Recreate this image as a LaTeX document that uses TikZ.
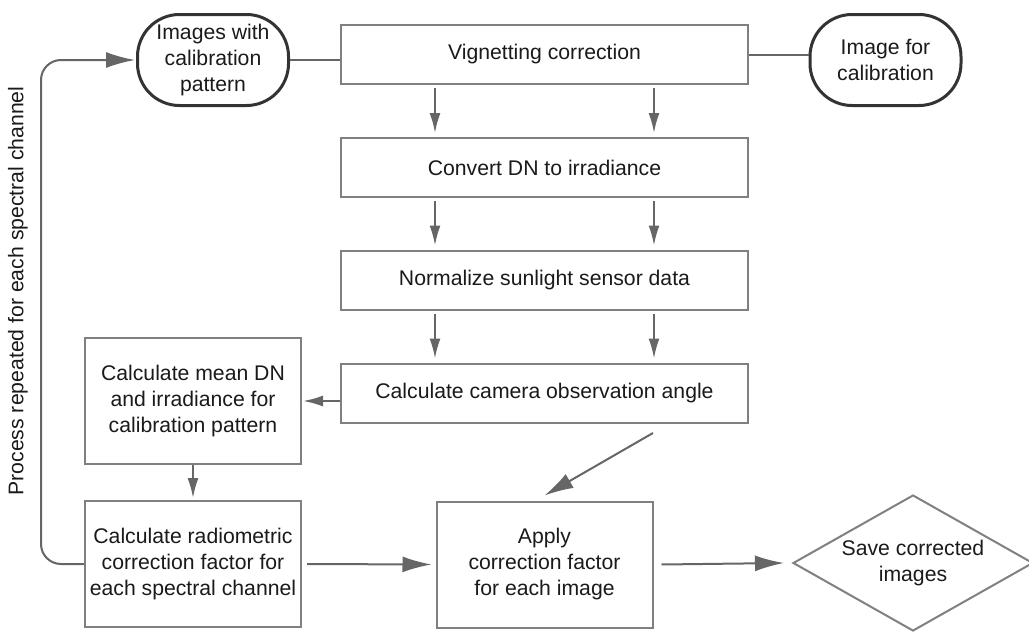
\documentclass[tikz,border=0pt]{standalone}
\usepackage{fontspec}
\setmainfont{Liberation Sans}
\usetikzlibrary{shapes.geometric, arrows.meta}
\definecolor{boxgray}{HTML}{808080}
\definecolor{linegray}{HTML}{666666}
\definecolor{termgray}{HTML}{333333}
\definecolor{txt}{HTML}{1A1A1A}

\begin{document}
\begin{tikzpicture}[x=1pt, y=-1pt,
	every node/.style={font=\fontsize{21.2}{26}\selectfont, text=txt, align=center, inner sep=0pt},
	stepbox/.style={draw=boxgray, line width=2pt, fill=white},
	wide/.style={minimum width=407pt, minimum height=59pt},
	tall/.style={minimum width=216pt, minimum height=126pt},
	terminal/.style={draw=termgray, line width=3pt, rounded corners=42pt, minimum width=151pt, minimum height=91pt},
	flow/.style={draw=linegray, line width=2pt, -{Latex[length=20pt, width=11pt]}},
	bigflow/.style={draw=linegray, line width=2pt, -{Latex[length=29pt, width=16pt]}},
	link/.style={draw=linegray, line width=2pt}]
	\useasboundingbox (0,0) rectangle (1029,632);

	\node[terminal] (imgs) at (213,60) {Images with\\calibration\\pattern};
	\node[stepbox, wide] (vig) at (544.5,54.5) {Vignetting correction};
	\node[terminal] (calimg) at (885.5,60) {Image for\\calibration};
	\node[stepbox, wide] (conv) at (544.5,167.5) {Convert DN to irradiance};
	\node[stepbox, wide] (norm) at (544.5,280) {Normalize sunlight sensor data};
	\node[stepbox, wide] (cam) at (544.5,393) {Calculate camera observation angle};
	\node[stepbox, tall] (mean) at (193,401) {Calculate mean DN\\and irradiance for\\calibration pattern};
	\node[stepbox, tall] (rad) at (193,564) {Calculate radiometric\\correction factor for\\each spectral channel};
	\node[stepbox, tall] (apply) at (544.5,564.5) {Apply\\correction factor\\for each image};
	\node[diamond, draw=boxgray, line width=2pt, aspect=1.76, minimum width=240pt, minimum height=136pt] (save) at (913,563) {Save corrected\\images};
	\node[rotate=90] (note) at (18,291) {Process repeated for each spectral channel};

	\coordinate (colL) at (435,0);
	\coordinate (colR) at (654,0);
	\coordinate (loopx) at (41,0);
	\coordinate (camout) at (653,433);

	\draw[link] (imgs.east) -- (imgs.east -| vig.west);
	\draw[link] (vig.east) -- (vig.east -| calimg.west);
	\foreach \a/\b in {vig/conv, conv/norm, norm/cam}
		\foreach \c in {colL, colR}
			\draw[flow] ([yshift=-3pt]\a.south -| \c) -- ([yshift=4pt]\b.north -| \c);
	\draw[flow] (cam.west |- mean.east) -- ([xshift=1pt]mean.east);
	\draw[flow] (mean.south) -- ([yshift=2pt]rad.north);
	\draw[bigflow] ([xshift=5pt]rad.east) -- ([xshift=-4pt]apply.west);
	\draw[bigflow] ([xshift=8pt]apply.east) -- ([xshift=-8pt]save.west);
	\draw[bigflow] (camout) -- ([yshift=5pt]apply.north);
	\draw[bigflow, rounded corners=20pt] (rad.west) -- (loopx |- rad.west) -- (loopx |- imgs.west) -- ([xshift=-1pt]imgs.west);
\end{tikzpicture}
\end{document}
